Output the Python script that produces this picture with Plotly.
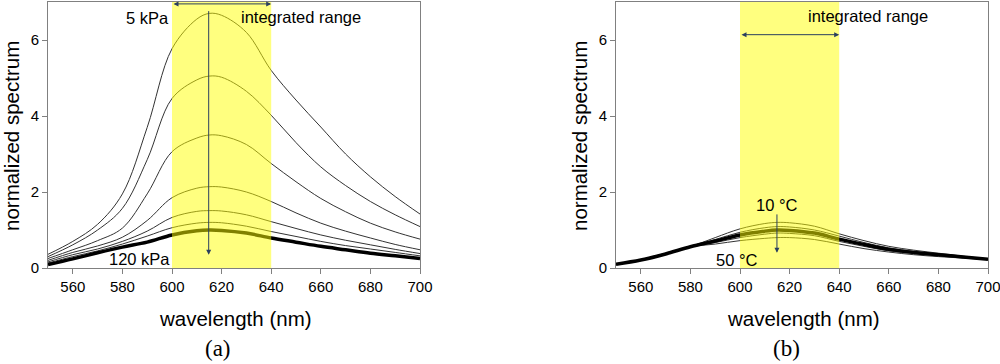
import plotly.graph_objects as go

wavelength = [550, 560, 570, 580, 590, 600, 610, 615, 620, 630, 640, 650, 660, 670, 680, 690, 700]

# (a) pressure series, 5 kPa (top) ... 120 kPa (thick)
p_5 = [0.36, 0.70, 1.15, 1.95, 3.70, 5.77, 6.55, 6.70, 6.65, 6.20, 5.20, 4.42, 3.71, 3.00, 2.40, 1.88, 1.42]
p_2 = [0.30, 0.61, 1.00, 1.57, 2.85, 4.46, 4.95, 5.05, 5.02, 4.65, 4.02, 3.30, 2.66, 2.17, 1.75, 1.40, 1.09]
p_3 = [0.25, 0.48, 0.72, 1.05, 1.95, 3.06, 3.42, 3.50, 3.48, 3.25, 2.75, 2.27, 1.83, 1.48, 1.18, 0.95, 0.76]
p_4 = [0.20, 0.41, 0.58, 0.81, 1.25, 1.85, 2.10, 2.14, 2.13, 2.00, 1.75, 1.45, 1.18, 0.97, 0.79, 0.62, 0.48]
p_5b = [0.16, 0.35, 0.50, 0.70, 0.97, 1.33, 1.49, 1.51, 1.50, 1.40, 1.22, 1.04, 0.87, 0.73, 0.61, 0.49, 0.38]
p_6 = [0.13, 0.30, 0.45, 0.63, 0.84, 1.06, 1.18, 1.20, 1.19, 1.10, 0.96, 0.83, 0.70, 0.59, 0.50, 0.41, 0.32]
p_120 = [0.09, 0.24, 0.40, 0.55, 0.68, 0.87, 0.98, 1.00, 0.99, 0.92, 0.79, 0.68, 0.57, 0.48, 0.39, 0.32, 0.25]

# (b) temperature series, 10 C (top) ... 50 C (bottom)
t_10 = [0.10, 0.20, 0.36, 0.56, 0.80, 1.03, 1.17, 1.20, 1.19, 1.10, 0.90, 0.72, 0.57, 0.47, 0.39, 0.31, 0.24]
t_20 = [0.10, 0.20, 0.37, 0.56, 0.75, 0.94, 1.06, 1.09, 1.08, 1.00, 0.84, 0.67, 0.53, 0.44, 0.37, 0.30, 0.24]
t_30 = [0.10, 0.21, 0.37, 0.56, 0.71, 0.87, 0.97, 1.00, 0.99, 0.92, 0.76, 0.62, 0.49, 0.41, 0.35, 0.29, 0.23]
t_40 = [0.10, 0.21, 0.38, 0.56, 0.67, 0.80, 0.89, 0.92, 0.91, 0.85, 0.70, 0.57, 0.45, 0.38, 0.32, 0.27, 0.22]
t_50 = [0.11, 0.22, 0.39, 0.56, 0.63, 0.72, 0.78, 0.80, 0.80, 0.75, 0.63, 0.51, 0.42, 0.35, 0.30, 0.26, 0.22]

x_ticks = [560, 580, 600, 620, 640, 660, 680, 700]
y_ticks = [0, 2, 4, 6]
range_lo, range_hi = 600, 640

FONT = "Liberation Sans, Arial, sans-serif"
fig = go.Figure()

thin = dict(color="#333333", width=1, shape="spline")
thick = dict(color="#000000", width=3.5, shape="spline")

for ys in [p_5, p_2, p_3, p_4, p_5b, p_6]:
    fig.add_trace(go.Scatter(x=wavelength, y=ys, mode="lines", line=thin, xaxis="x", yaxis="y", showlegend=False))
fig.add_trace(go.Scatter(x=wavelength, y=p_120, mode="lines", line=thick, xaxis="x", yaxis="y", showlegend=False))

for ys in [t_10, t_20, t_40, t_50]:
    fig.add_trace(go.Scatter(x=wavelength, y=ys, mode="lines", line=thin, xaxis="x2", yaxis="y2", showlegend=False))
fig.add_trace(go.Scatter(x=wavelength, y=t_30, mode="lines", line=thick, xaxis="x2", yaxis="y2", showlegend=False))

H = 364.0
ytop = (H - 2) / H
ybot = (H - 268) / H
axis_common = dict(showgrid=False, zeroline=False, showline=True, linecolor="#808080", linewidth=1,
                   mirror=True, ticks="outside", ticklen=5, tickcolor="#808080",
                   ticklabeloverflow="allow",
                   tickfont=dict(family=FONT, size=15, color="#000"))

fig.update_layout(
    width=1000, height=364,
    margin=dict(l=0, r=0, t=0, b=0, autoexpand=False),
    paper_bgcolor="white", plot_bgcolor="white",
    xaxis=dict(domain=[0.048, 0.420], range=[550, 700], tickvals=x_ticks, anchor="y", **axis_common),
    yaxis=dict(domain=[ybot, ytop], range=[0, 7], tickvals=y_ticks, anchor="x", **axis_common),
    xaxis2=dict(domain=[0.616, 0.988], range=[550, 700], tickvals=x_ticks, anchor="y2", **axis_common),
    yaxis2=dict(domain=[ybot, ytop], range=[0, 7], tickvals=y_ticks, anchor="x2", **axis_common),
)

for xr, yr in [("x", "y"), ("x2", "y2")]:
    fig.add_shape(type="rect", xref=xr, yref=yr, x0=range_lo, x1=range_hi, y0=0, y1=7,
                  fillcolor="rgba(255,255,0,0.5)", line=dict(width=0), layer="above")

txt = dict(family=FONT, size=16.5, color="#000")


def label(xpx, ypx, text, font=txt, angle=0):
    return dict(xref="paper", yref="paper", x=xpx / 1000.0, y=(H - ypx) / H, text=text,
                showarrow=False, font=font, xanchor="center", yanchor="middle", textangle=angle)


ann = []
# (a)
ann.append(dict(xref="x", yref="y", x=range_hi, y=6.95, ax=range_lo, ay=6.95, axref="x", ayref="y",
                showarrow=True, arrowhead=2, arrowsize=1, arrowwidth=1, arrowside="end+start", text=""))
ann.append(dict(xref="x", yref="y", x=614.8, y=0.35, ax=614.8, ay=6.8, axref="x", ayref="y",
                showarrow=True, arrowhead=2, arrowsize=1, arrowwidth=1, text=""))
ann.append(label(147, 18, "5 kPa"))
ann.append(label(301, 17, "integrated range"))
ann.append(label(139, 259, "120 kPa"))
# (b)
ann.append(dict(xref="x2", yref="y2", x=range_hi, y=6.14, ax=range_lo, ay=6.14, axref="x2", ayref="y2",
                showarrow=True, arrowhead=2, arrowsize=1, arrowwidth=1, arrowside="end+start", text=""))
ann.append(dict(xref="x2", yref="y2", x=614.9, y=0.4, ax=614.9, ay=1.45, axref="x2", ayref="y2",
                showarrow=True, arrowhead=2, arrowsize=1, arrowwidth=1, text=""))
ann.append(label(868, 16, "integrated range"))
ann.append(label(777, 205, "10 °C"))
ann.append(label(737, 260, "50 °C"))

title_font = dict(family=FONT, size=20.5, color="#000")
serif = dict(family="Liberation Serif, Times New Roman, serif", size=23, color="#000")
for xc, lab, xl in [(235, "(a)", 218), (803, "(b)", 786)]:
    ann.append(label(xc, 318, "wavelength (nm)", title_font))
    ann.append(label(xl, 348, lab, serif))
for xc in [11, 579]:
    ann.append(label(xc, 136, "normalized spectrum", title_font, -90))

fig.update_layout(annotations=ann)
fig.write_html("out.html", config={"displayModeBar": False},
               post_script="document.body.style.margin='0';document.body.style.overflow='hidden';")
